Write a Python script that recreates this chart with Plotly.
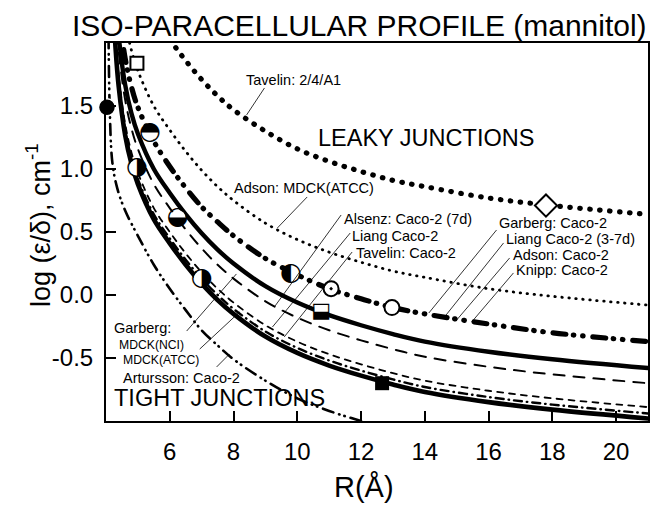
import plotly.graph_objects as go

# ---------------- data ----------------
# Big round dots: Tavelin 2/4/A1
R_tav241 = [5.5, 6.0, 6.5, 7.0, 7.5, 8.0, 9.0, 10.0, 11.0, 12.0, 13.0, 14.0, 16.0, 18.0, 21.0]
y_tav241 = [2.23, 2.03, 1.86, 1.71, 1.58, 1.47, 1.30, 1.16, 1.06, 0.98, 0.91, 0.86, 0.77, 0.71, 0.64]

# Small dots: Adson MDCK(ATCC)
R_adson_mdck = [4.4, 4.6, 4.8, 5.0, 5.5, 6.0, 6.5, 7.0, 7.5, 8.0, 9.0, 10.0, 11.0, 12.0, 13.0, 14.0, 16.0, 18.0, 21.0]
y_adson_mdck = [2.55, 2.17, 1.94, 1.78, 1.50, 1.31, 1.14, 0.99, 0.86, 0.75, 0.57, 0.44, 0.34, 0.26, 0.19, 0.14, 0.05, -0.01, -0.08]

R_main = [4.3, 4.4, 4.6, 4.8, 5.0, 5.5, 6.0, 6.5, 7.0, 7.5, 8.0, 9.0, 10.0, 11.0, 12.0, 13.0, 14.0, 16.0, 18.0, 21.0]
# Thick dash-dot-dot: Garberg / Liang (3-7d) / Adson / Knipp Caco-2
y_caco_leaky = [2.58, 2.26, 1.88, 1.65, 1.49, 1.22, 1.02, 0.85, 0.70, 0.58, 0.47, 0.29, 0.16, 0.05, -0.03, -0.10, -0.15, -0.23, -0.30, -0.37]
# Thick solid (upper)
y_solid_upper = [2.36, 2.05, 1.67, 1.44, 1.28, 1.00, 0.81, 0.64, 0.49, 0.36, 0.25, 0.07, -0.06, -0.16, -0.24, -0.31, -0.37, -0.45, -0.51, -0.58]
# Long dashes (thin): Alsenz Caco-2 (7d)
y_alsenz = [2.24, 1.93, 1.55, 1.32, 1.16, 0.88, 0.69, 0.52, 0.37, 0.24, 0.13, -0.05, -0.18, -0.28, -0.36, -0.43, -0.49, -0.57, -0.63, -0.70]

R_low = [4.25, 4.3, 4.4, 4.6, 4.8, 5.0, 5.5, 6.0, 6.5, 7.0, 7.5, 8.0, 9.0, 10.0, 11.0, 12.0, 13.0, 14.0, 16.0, 18.0, 21.0]
# Short dashes: Liang Caco-2
y_liang = [2.28, 2.05, 1.74, 1.36, 1.13, 0.97, 0.69, 0.50, 0.33, 0.18, 0.05, -0.06, -0.24, -0.37, -0.47, -0.55, -0.62, -0.68, -0.76, -0.82, -0.89]
# Dash-dot (thin): Tavelin Caco-2
y_tavelin = [2.23, 2.00, 1.69, 1.31, 1.08, 0.92, 0.64, 0.45, 0.28, 0.13, 0.00, -0.11, -0.29, -0.42, -0.52, -0.60, -0.67, -0.73, -0.81, -0.87, -0.94]

# Thick solid (lower)
R_solid_lower = [4.2, 4.25, 4.3, 4.4, 4.6, 4.8, 5.0, 5.5, 6.0, 6.5, 7.0, 7.5, 8.0, 9.0, 10.0, 11.0, 12.0, 13.0, 14.0, 16.0, 18.0, 21.0]
y_solid_lower = [2.51, 2.19, 1.96, 1.65, 1.27, 1.04, 0.88, 0.60, 0.41, 0.24, 0.09, -0.04, -0.15, -0.33, -0.46, -0.56, -0.64, -0.71, -0.77, -0.85, -0.91, -0.98]

# Dash-dot-dot (lowest): Artursson Caco-2
R_artursson = [4.08, 4.12, 4.2, 4.35, 4.6, 5.0, 5.5, 6.0, 6.5, 7.0, 7.5, 8.0, 9.0, 10.0, 11.0, 12.0, 13.0]
y_artursson = [2.05, 1.45, 1.05, 0.85, 0.67, 0.47, 0.24, 0.05, -0.12, -0.28, -0.40, -0.51, -0.68, -0.82, -0.92, -1.00, -1.07]

# Point markers
filled_circle_x, filled_circle_y = [4.03], [1.49]
open_square_x, open_square_y = [4.97], [1.84]
half_circle_x = [5.38, 4.97, 6.25, 7.0, 9.8]
half_circle_y = [1.29, 1.01, 0.61, 0.13, 0.17]
half_circle_glyph = ["\u25D3", "\u25D1", "\u25D2", "\u25D1", "\u25D0"]
half_square_x, half_square_y = [10.75], [-0.135]
dot_circle_x, dot_circle_y = [11.06], [0.05]
open_circle_x, open_circle_y = [12.97], [-0.10]
filled_square_x, filled_square_y = [12.66], [-0.70]
diamond_x, diamond_y = [17.8], [0.71]

x_ticks = [6, 8, 10, 12, 14, 16, 18, 20]
y_ticks = [-0.5, 0.0, 0.5, 1.0, 1.5]
y_ticktext = ["-0.5", "0.0", "0.5", "1.0", "1.5"]

# Text labels: (text, x, y, size)  -- left-anchored
labels = [
    ("Tavelin: 2/4/A1", 8.34, 1.706, 14.5),
    ("LEAKY JUNCTIONS", 10.59, 1.246, 23.5),
    ("Adson: MDCK(ATCC)", 7.94, 0.849, 14.5),
    ("Alsenz: Caco-2 (7d)", 11.41, 0.603, 14.5),
    ("Liang Caco-2", 11.66, 0.468, 14.5),
    ("Tavelin: Caco-2", 11.78, 0.333, 14.5),
    ("Garberg: Caco-2", 16.25, 0.571, 14.5),
    ("Liang Caco-2 (3-7d)", 16.47, 0.444, 14.5),
    ("Adson: Caco-2", 16.69, 0.317, 14.5),
    ("Knipp: Caco-2", 16.81, 0.198, 14.5),
    ("Garberg:", 4.19, -0.262, 14.5),
    ("MDCK(NCI)", 4.34, -0.397, 12.2),
    ("MDCK(ATCC)", 4.47, -0.516, 12.2),
    ("Artursson: Caco-2", 4.47, -0.659, 14.5),
    ("TIGHT JUNCTIONS", 4.19, -0.817, 23.5),
]
# Leader lines: (x0, y0, x1, y1)
leaders = [
    (8.97, 1.643, 8.41, 1.429),
    (10.31, 0.778, 9.375, 0.532),
    (11.375, 0.635, 9.28, -0.095),
    (11.66, 0.492, 9.22, -0.254),
    (11.72, 0.341, 9.59, -0.333),
    (16.25, 0.516, 14.125, -0.143),
    (16.47, 0.413, 14.59, -0.183),
    (16.66, 0.294, 15.0, -0.198),
    (16.78, 0.175, 15.47, -0.214),
    (6.53, -0.286, 8.09, 0.167),
    (6.94, -0.429, 8.19, -0.135),
    (7.47, -0.571, 7.875, -0.468),
]

FONT = "Liberation Sans, Arial, Helvetica, sans-serif"

fig = go.Figure()

def curve(x, y, width, dash):
    fig.add_trace(go.Scatter(x=x, y=y, mode="lines",
                             line=dict(color="black", width=width, dash=dash,
                                       shape="spline", smoothing=1.0),
                             hoverinfo="skip", showlegend=False))

curve(R_artursson, y_artursson, 2.6, "11px,6px,0.5px,5px,0.5px,6px")
curve(R_solid_lower, y_solid_lower, 4.6, "solid")
curve(R_low, y_tavelin, 2.4, "8px,5px,0.5px,5px")
curve(R_low, y_liang, 1.8, "6px,6px")
curve(R_main, y_alsenz, 2.0, "11px,9px")
curve(R_main, y_solid_upper, 4.4, "solid")
curve(R_main, y_caco_leaky, 5.2, "13px,7.5px,0.5px,8.8px,0.5px,9.7px")
curve(R_adson_mdck, y_adson_mdck, 2.8, "0.5px,6.5px")
curve(R_tav241, y_tav241, 5.2, "0.5px,9.5px")

def markers(x, y, symbol, size, color, lcolor, lwidth, clip=True):
    fig.add_trace(go.Scatter(x=x, y=y, mode="markers",
                             marker=dict(symbol=symbol, size=size, color=color,
                                         line=dict(color=lcolor, width=lwidth)),
                             cliponaxis=clip, hoverinfo="skip", showlegend=False))

markers(filled_circle_x, filled_circle_y, "circle", 17, "black", "white", 1.5, clip=False)
markers(open_square_x, open_square_y, "square", 13, "white", "black", 2)
# white underlay for half-filled symbols
markers(half_circle_x, half_circle_y, "circle", 16, "white", "white", 0)
fig.add_trace(go.Scatter(x=half_circle_x, y=half_circle_y, mode="text",
                         text=half_circle_glyph, textposition="middle center",
                         textfont=dict(family="DejaVu Sans", size=25, color="black"),
                         hoverinfo="skip", showlegend=False))
markers(half_square_x, half_square_y, "square", 14, "white", "white", 0)
fig.add_trace(go.Scatter(x=half_square_x, y=half_square_y, mode="text",
                         text=["\u2B13"], textposition="middle center",
                         textfont=dict(family="DejaVu Sans", size=21, color="black"),
                         hoverinfo="skip", showlegend=False))
markers(dot_circle_x, dot_circle_y, "circle", 15, "white", "white", 0)
markers(dot_circle_x, dot_circle_y, "circle-open-dot", 15, "black", "black", 2)
markers(open_circle_x, open_circle_y, "circle", 15, "white", "black", 2)
markers(filled_square_x, filled_square_y, "square", 14, "black", "black", 0)
markers(diamond_x, diamond_y, "diamond", 17, "white", "black", 2)

annotations = []
for txt, x, y, sz in labels:
    annotations.append(dict(text=txt, x=x, y=y, xref="x", yref="y", xanchor="left",
                            yanchor="middle", showarrow=False,
                            font=dict(family=FONT, size=sz, color="black")))
annotations += [
    dict(text="ISO-PARACELLULAR PROFILE (mannitol)", x=0.467, y=1.0476, xref="paper",
         yref="paper", xanchor="center", yanchor="middle", showarrow=False,
         font=dict(family=FONT, size=30, color="black")),
    dict(text="R(Å)", x=0.476, y=-0.175, xref="paper", yref="paper", xanchor="center",
         yanchor="middle", showarrow=False, font=dict(family=FONT, size=29, color="black")),
    dict(text="log (ε/δ), cm<sup>-1</sup>", x=-0.125, y=0.519, xref="paper", yref="paper",
         xanchor="center", yanchor="middle", textangle=-90, showarrow=False,
         font=dict(family=FONT, size=27, color="black")),
]

shapes = [dict(type="line", x0=a, y0=b, x1=c, y1=d, xref="x", yref="y",
               line=dict(color="black", width=0.8)) for a, b, c, d in leaders]

axis_common = dict(showline=True, linecolor="black", linewidth=2, mirror=True,
                   ticks="inside", ticklen=10, tickwidth=2, tickcolor="black",
                   showgrid=False, zeroline=False,
                   tickfont=dict(family=FONT, size=24, color="black"))

fig.update_layout(
    width=650, height=505, template="none",
    margin=dict(l=106, r=2, t=43, b=84, pad=0),
    paper_bgcolor="white", plot_bgcolor="white",
    showlegend=False,
    xaxis=dict(range=[4, 21], tickvals=x_ticks, ticklabelstandoff=8, **axis_common),
    yaxis=dict(range=[-1, 2], tickvals=y_ticks, ticktext=y_ticktext,
               ticklabelstandoff=6, **axis_common),
    annotations=annotations, shapes=shapes,
)

post = ("document.querySelectorAll('.scatterlayer path.js-line').forEach(function(p){"
        "p.style.strokeLinecap='round';});")
fig.write_html("out.html", post_script=post)
